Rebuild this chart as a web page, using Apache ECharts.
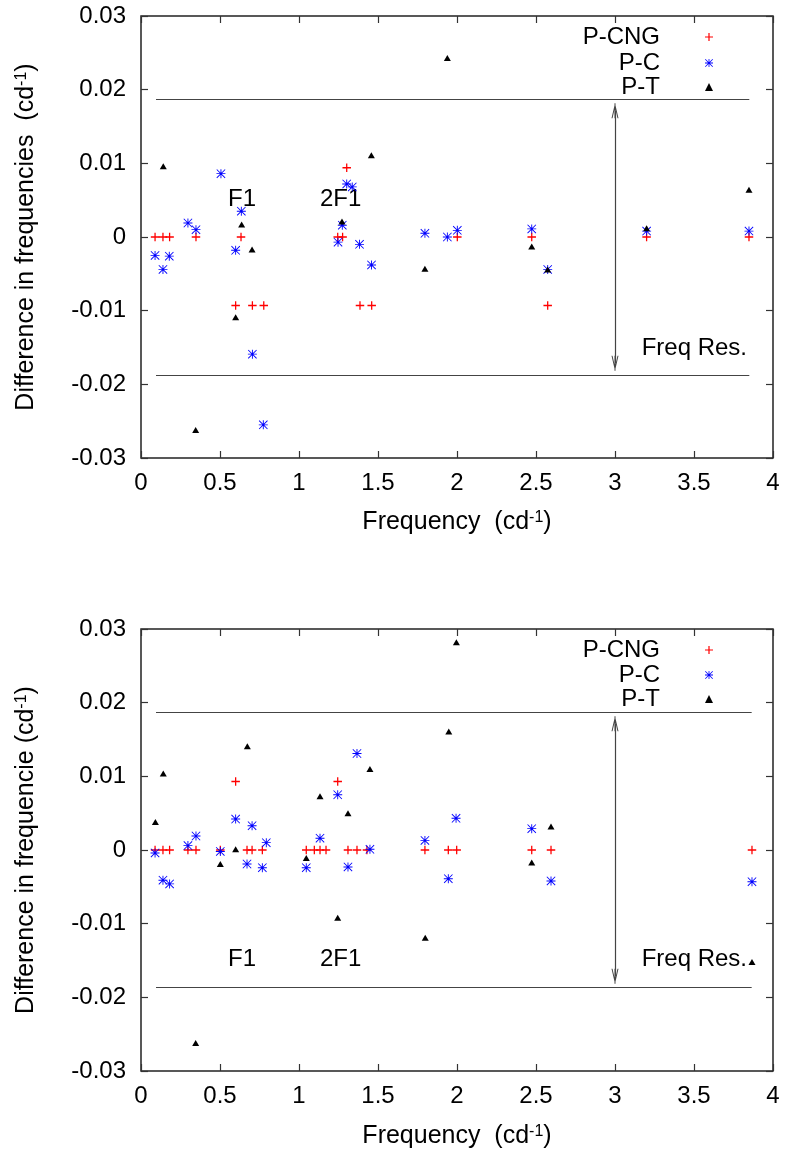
<!DOCTYPE html>
<html>
<head>
<meta charset="utf-8">
<script src="https://cdn.jsdelivr.net/npm/echarts@6/dist/echarts.min.js"></script>
<style>
html,body{margin:0;padding:0;background:#fff;}
#chart{width:785px;height:1152px;}
</style>
</head>
<body>
<div id="chart"></div>
<script>
// ---------- data ----------
const xTickLabels = ['0', '0.5', '1', '1.5', '2', '2.5', '3', '3.5', '4'];
const yTickLabels = ['-0.03', '-0.02', '-0.01', '0', '0.01', '0.02', '0.03'];
const seriesNames = ['P-CNG', 'P-C', 'P-T'];

// top panel
const topCngX = [0.089, 0.139, 0.181, 0.348, 0.633, 0.599, 0.705, 0.777, 1.302, 1.245, 1.276, 1.386, 1.46, 2.002, 2.473, 2.574, 3.2, 3.848];
const topCngY = [0, 0, 0, 0, 0, -0.0093, -0.0093, -0.0093, 0.0094, 0, 0, -0.0093, -0.0093, 0, 0, -0.0093, 0, 0];
const topCX = [0.089, 0.139, 0.179, 0.297, 0.348, 0.506, 0.635, 0.599, 0.705, 0.774, 1.247, 1.274, 1.302, 1.337, 1.383, 1.459, 1.797, 1.939, 2.002, 2.473, 2.574, 3.2, 3.848];
const topCY = [-0.0025, -0.0044, -0.0026, 0.0019, 0.001, 0.0086, 0.0035, -0.0018, -0.0159, -0.0255, -0.0007, 0.0016, 0.0072, 0.0068, -0.001, -0.0038, 0.0005, 0, 0.0009, 0.0011, -0.0044, 0.0008, 0.0008];
const topTX = [0.141, 0.346, 0.637, 0.703, 0.599, 1.272, 1.458, 1.939, 1.797, 2.473, 2.574, 3.2, 3.848];
const topTY = [0.0096, -0.0262, 0.0017, -0.0017, -0.0109, 0.0021, 0.0111, 0.0243, -0.0043, -0.0013, -0.0044, 0.0012, 0.0064];

// bottom panel
const botCngX = [0.089, 0.139, 0.181, 0.297, 0.348, 0.502, 0.599, 0.671, 0.703, 0.768, 1.046, 1.097, 1.133, 1.171, 1.245, 1.31, 1.367, 1.43, 1.797, 1.945, 1.998, 2.473, 2.595, 3.867];
const botCngY = [0, 0, 0, 0, 0, 0, 0.0093, 0, 0, 0, 0, 0, 0, 0, 0.0093, 0, 0, 0, 0, 0, 0, 0, 0, 0];
const botCX = [0.089, 0.139, 0.181, 0.297, 0.348, 0.502, 0.599, 0.703, 0.671, 0.768, 0.793, 1.046, 1.133, 1.245, 1.31, 1.367, 1.449, 1.797, 1.945, 1.994, 2.473, 2.595, 3.867];
const botCY = [-0.0004, -0.0041, -0.0046, 0.0006, 0.0019, -0.0002, 0.0042, 0.0033, -0.0019, -0.0024, 0.001, -0.0024, 0.0016, 0.0075, -0.0023, 0.0131, 0.0001, 0.0013, -0.0039, 0.0043, 0.0029, -0.0042, -0.0043];
const botTX = [0.091, 0.141, 0.346, 0.502, 0.599, 0.673, 1.046, 1.133, 1.31, 1.449, 1.245, 1.948, 1.996, 1.799, 2.473, 2.595, 3.867];
const botTY = [0.0038, 0.0104, -0.0262, -0.0019, 0.0001, 0.0141, -0.0011, 0.0073, 0.005, 0.011, -0.0092, 0.0161, 0.0282, -0.0119, -0.0017, 0.0032, -0.0152];

// frequency resolution lines and arrow
const freqRes = [0.01875, 0.01869];      // top, bottom
const resLineX = [[0.095, 3.85], [0.095, 3.865]];
const arrowX = 3;
const arrowEnd = 0.01715;

// ---------- rendering ----------
const FONT = "'Liberation Sans', Arial, Helvetica, sans-serif";
const zip = (xs, ys) => xs.map((x, i) => [x, ys[i]]);

const plusPath = 'path://M6.8,0H9.2V6.8H16V9.2H9.2V16H6.8V9.2H0V6.8H6.8Z';
const starPath = 'path://M7.2,0H8.8V16H7.2Z M0,7.2H16V8.8H0Z M0,1.1L1.1,0L16,14.9L14.9,16Z M14.9,0L16,1.1L1.1,16L0,14.9Z';
const triPath = 'path://M5,0L10,9L0,9Z';
const arrowPath = 'path://M3.5,0L7,15L6,15L3.5,4.3L1,15L0,15Z M3,0H4V15H3Z';

const grids = [
  {left: 141, top: 16, width: 632, height: 442},
  {left: 141, top: 629, width: 632, height: 442}
];

function xAx(g, pos) {
  return {
    gridIndex: g, type: 'value', min: 0, max: 4, interval: 0.5, position: pos,
    axisLine: {show: false, onZero: false},
    axisTick: {show: true, inside: true, length: 7, lineStyle: {color: '#333', width: 1.2}},
    splitLine: {show: false},
    axisLabel: {show: pos === 'bottom', fontSize: 24, margin: 13, color: '#000', fontFamily: FONT,
      formatter: v => xTickLabels[Math.round(v / 0.5)]}
  };
}
function yAx(g, pos) {
  return {
    gridIndex: g, type: 'value', min: -0.03, max: 0.03, interval: 0.01, position: pos,
    axisLine: {show: false, onZero: false},
    axisTick: {show: true, inside: true, length: 7, lineStyle: {color: '#333', width: 1.2}},
    splitLine: {show: false},
    axisLabel: {show: pos === 'left', fontSize: 24, margin: 15, color: '#000', fontFamily: FONT,
      formatter: v => yTickLabels[Math.round(v / 0.01) + 3]}
  };
}

const colors = ['#ff0000', '#0000ff', '#000000'];
const symbols = [plusPath, starPath, triPath];
const sizes = [8.5, 9, [7, 6]];

function scatter(g, k, data) {
  return {
    type: 'scatter', name: seriesNames[k], xAxisIndex: g * 2, yAxisIndex: g * 2,
    data: data, symbol: symbols[k], symbolSize: sizes[k], symbolKeepAspect: false,
    itemStyle: {color: colors[k], opacity: 1}, silent: true, z: 2 + k
  };
}

function resLines(g) {
  const r = freqRes[g];
  const [x0, x1] = resLineX[g];
  return {
    type: 'line', xAxisIndex: g * 2, yAxisIndex: g * 2, data: [], silent: true,
    markLine: {
      silent: true, symbol: 'none', label: {show: false}, animation: false,
      lineStyle: {color: '#444', width: 1.2, type: 'solid'},
      emphasis: {disabled: true},
      data: [
        [{coord: [x0, r]}, {coord: [x1, r]}],
        [{coord: [x0, -r]}, {coord: [x1, -r]}],
        [{coord: [arrowX, arrowEnd], symbol: arrowPath, symbolSize: [7, 15]},
         {coord: [arrowX, -arrowEnd], symbol: arrowPath, symbolSize: [7, 15]}]
      ]
    }
  };
}

function legend(name, icon, cy) {
  return {
    data: [{name: name, icon: icon}], orient: 'horizontal', align: 'right',
    right: 72, top: cy - 10, itemWidth: 8, itemHeight: 8, padding: 0, itemGap: 0,
    selectedMode: false, symbolKeepAspect: false,
    textStyle: {fontSize: 24, fontFamily: FONT, color: '#000', padding: [0, 40, 0, 0]}
  };
}

const legendY = [[35, 61, 85], [648, 673, 697]];
const legends = [];
legendY.forEach(ys => {
  ys.forEach((cy, k) => legends.push(legend(seriesNames[k], symbols[k], cy)));
});

function label(text, x, y, align) {
  return {type: 'text', x: x, y: y, silent: true,
    style: {text: text, fontSize: 24, fontFamily: FONT, fill: '#000', align: align, verticalAlign: 'middle'}};
}
const richSup = {sup: {fontSize: 16, fontFamily: FONT, fill: '#000', verticalAlign: 'top', lineHeight: 16}};
function title(text, x, y, rot) {
  return {type: 'text', x: x, y: y, rotation: rot, silent: true,
    style: {text: text, fontSize: 25, fontFamily: FONT, fill: '#000', align: 'center', verticalAlign: 'middle',
      rich: richSup}};
}

const option = {
  animation: false,
  backgroundColor: '#fff',
  grid: grids.map(g => Object.assign({show: true, borderColor: '#222', borderWidth: 1.5, backgroundColor: 'transparent'}, g)),
  xAxis: [xAx(0, 'bottom'), xAx(0, 'top'), xAx(1, 'bottom'), xAx(1, 'top')],
  yAxis: [yAx(0, 'left'), yAx(0, 'right'), yAx(1, 'left'), yAx(1, 'right')],
  legend: legends,
  series: [
    resLines(0),
    scatter(0, 0, zip(topCngX, topCngY)),
    scatter(0, 1, zip(topCX, topCY)),
    scatter(0, 2, zip(topTX, topTY)),
    resLines(1),
    scatter(1, 0, zip(botCngX, botCngY)),
    scatter(1, 1, zip(botCX, botCY)),
    scatter(1, 2, zip(botTX, botTY))
  ],
  graphic: [
    label('F1', 228, 199, 'left'),
    label('2F1', 320, 199, 'left'),
    label('Freq Res.', 747, 348, 'right'),
    label('F1', 228, 959, 'left'),
    label('2F1', 320, 959, 'left'),
    label('Freq Res.', 747, 959, 'right'),
    title('Frequency  (cd{sup|-1})', 457, 522, 0),
    title('Frequency  (cd{sup|-1})', 457, 1136, 0),
    title('Difference in frequencies  (cd{sup|-1})', 26, 237, Math.PI / 2),
    title('Difference in frequencie (cd{sup|-1})', 26, 850, Math.PI / 2)
  ]
};

const chart = echarts.init(document.getElementById('chart'), null, {renderer: 'canvas'});
chart.setOption(option);
</script>
</body>
</html>
